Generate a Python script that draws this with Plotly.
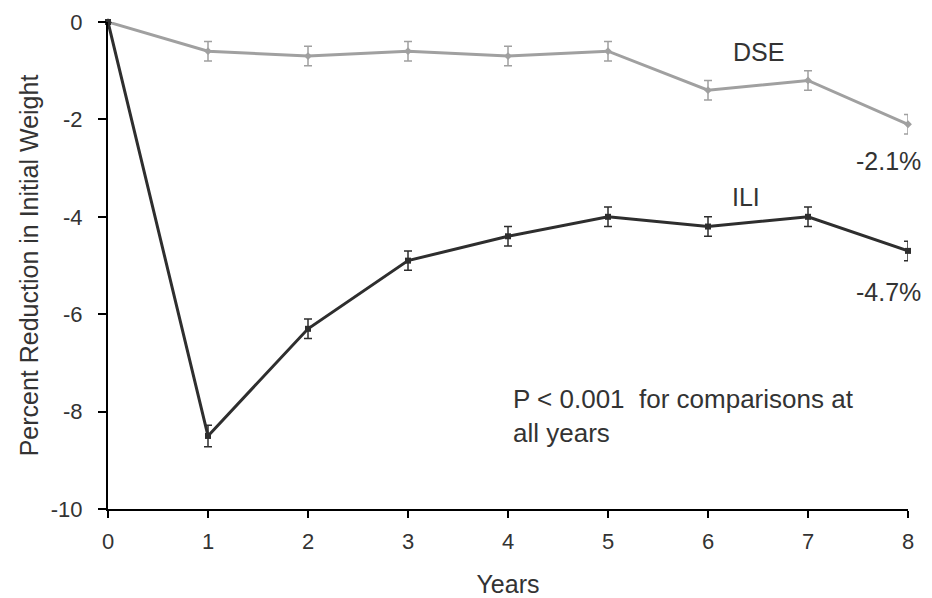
import plotly.graph_objects as go

years = [0, 1, 2, 3, 4, 5, 6, 7, 8]
dse = [0, -0.6, -0.7, -0.6, -0.7, -0.6, -1.4, -1.2, -2.1]
dse_err = [0, 0.2, 0.2, 0.2, 0.2, 0.2, 0.2, 0.2, 0.2]
ili = [0, -8.5, -6.3, -4.9, -4.4, -4.0, -4.2, -4.0, -4.7]
ili_err = [0, 0.22, 0.2, 0.2, 0.2, 0.2, 0.2, 0.2, 0.2]
y_ticks = [0, -2, -4, -6, -8, -10]
y_ticktext = ["0", "-2", "-4", "-6", "-8", "-10"]

font = "Liberation Sans, Arial, sans-serif"
txt = "#333333"

fig = go.Figure()
fig.add_trace(go.Scatter(
    x=years, y=dse, mode="lines+markers", name="DSE",
    line=dict(color="#a0a0a0", width=3),
    marker=dict(color="#a0a0a0", size=6, symbol="diamond"),
    error_y=dict(type="data", array=dse_err, color="#a0a0a0", thickness=1.5, width=4),
    cliponaxis=False,
))
fig.add_trace(go.Scatter(
    x=years, y=ili, mode="lines+markers", name="ILI",
    line=dict(color="#2e2e2e", width=3),
    marker=dict(color="#2e2e2e", size=6, symbol="square"),
    error_y=dict(type="data", array=ili_err, color="#2e2e2e", thickness=1.5, width=4),
    cliponaxis=False,
))

ann_font = dict(family=font, size=25, color=txt)
fig.add_annotation(x=6.50, y=-0.62, text="DSE", showarrow=False, font=ann_font)
fig.add_annotation(x=6.38, y=-3.59, text="ILI", showarrow=False, font=ann_font)
fig.add_annotation(x=8, y=-2.85, text="-2.1%", showarrow=False, font=ann_font,
                   xanchor="right", xshift=15)
fig.add_annotation(x=8, y=-5.54, text="-4.7%", showarrow=False, font=ann_font,
                   xanchor="right", xshift=15)
fig.add_annotation(x=4.03, y=-8.10, text="P < 0.001&nbsp; for comparisons at<br>all years",
                   showarrow=False, font=dict(family=font, size=26, color=txt),
                   align="left", xanchor="left", yanchor="middle")

fig.update_layout(
    width=924, height=590,
    margin=dict(l=100, r=24, t=14, b=89),
    plot_bgcolor="white", paper_bgcolor="white",
    showlegend=False,
    font=dict(family=font, size=22, color=txt),
)
fig.update_xaxes(
    range=[0, 8], dtick=1, showgrid=False, zeroline=False,
    showline=True, linecolor="black", linewidth=2,
    ticks="outside", ticklen=7, tickwidth=2, tickcolor="black",
    ticklabelstandoff=5,
    title=dict(text="Years", font=dict(size=25), standoff=22),
    tickfont=dict(size=22), automargin=False,
)
fig.update_yaxes(
    range=[-10, 0], tickvals=y_ticks, ticktext=y_ticktext,
    showgrid=False, zeroline=False,
    showline=True, linecolor="black", linewidth=2,
    ticks="outside", ticklen=8, tickwidth=2, tickcolor="black",
    ticklabelstandoff=11,
    title=dict(text="Percent Reduction in Initial Weight", font=dict(size=25), standoff=5),
    tickfont=dict(size=22), automargin=False,
)

fig.write_html("out.html")
